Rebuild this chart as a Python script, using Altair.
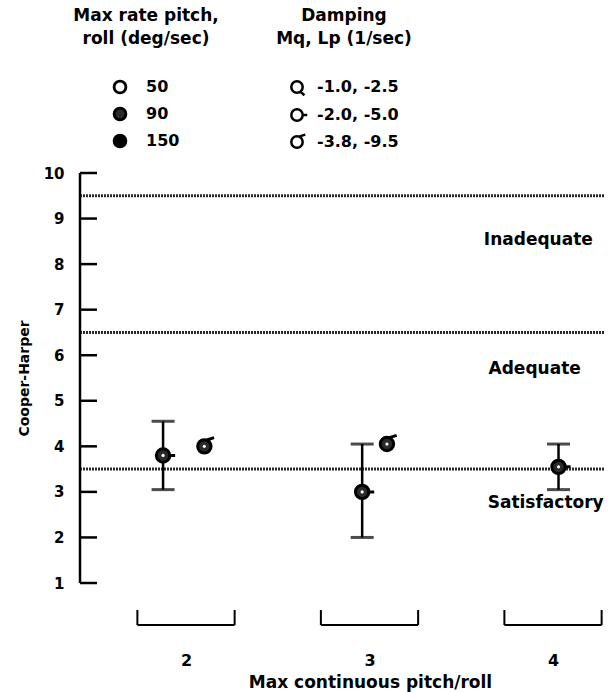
import altair as alt
import pandas as pd

# ---------------- data ----------------
groups = [2, 3, 4]                               # max continuous pitch/roll
pt_x = [1.875, 2.10, 2.96, 3.095, 4.03]          # plotted position (offset around group)
pt_rating = [3.8, 4.0, 3.0, 4.05, 3.55]          # Cooper-Harper rating
pt_rate = ["90", "90", "90", "90", "90"]         # max rate pitch, roll (deg/sec)
pt_damping = ["-2.0, -5.0", "-3.8, -9.5", "-2.0, -5.0", "-3.8, -9.5", "-2.0, -5.0"]
err_x = [1.875, 2.96, 4.03]
err_lo = [3.05, 2.0, 3.05]
err_hi = [4.55, 4.05, 4.05]
rate_levels = ["50", "90", "150"]
damping_levels = ["-1.0, -2.5", "-2.0, -5.0", "-3.8, -9.5"]
thresholds = [3.5, 6.5, 9.5]
zone_labels = ["Inadequate", "Adequate", "Satisfactory"]
zone_x = [3.92, 3.90, 3.96]
zone_y = [8.53, 5.70, 2.76]
y_ticks = list(range(1, 11))
bracket_half = 0.265

# ---------------- layout / style ----------------
W, H = 524, 410
FONT = "DejaVu Sans"
xs = alt.Scale(domain=[1.4223, 4.2779], nice=False, zero=False)
ys = alt.Scale(domain=[1, 10], nice=False, zero=False)

xaxis = alt.Axis(values=groups, format="d", ticks=False, domain=False, grid=False,
                 labelFont=FONT, labelFontSize=16, labelFontWeight="bold", labelColor="black",
                 labelPadding=69, title="Max continuous pitch/roll", titleFont=FONT,
                 titleFontSize=17, titleFontWeight="bold", titleColor="black",
                 titlePadding=6, titleX=290)
yaxis = alt.Axis(values=y_ticks, format="d", ticks=False, domain=False, grid=False,
                 labelFont=FONT, labelFontSize=15, labelFontWeight="bold", labelColor="black",
                 labelPadding=16, title="Cooper-Harper", titleFont=FONT, titleFontSize=14,
                 titleFontWeight="bold", titleColor="black", titlePadding=12)

X = lambda f: alt.X(f, type="quantitative", scale=xs, axis=xaxis)
Y = lambda f: alt.Y(f, type="quantitative", scale=ys, axis=yaxis)

CIRCLE = "M-1,0A1,1 0 1,1 1,0A1,1 0 1,1 -1,0Z"
shape_paths = [
    CIRCLE + "M0.6,0.8L1.3,1.45",     # Q  : -1.0, -2.5
    CIRCLE + "M1,0L1.8,0",            # O- : -2.0, -5.0
    CIRCLE + "M0.35,-0.95L1.45,-1.3", # σ  : -3.8, -9.5
]

pts = pd.DataFrame({"x": pt_x, "rating": pt_rating, "rate": pt_rate, "damping": pt_damping})
err = pd.DataFrame({"x": err_x, "lo": err_lo, "hi": err_hi})
caps = pd.DataFrame({"x": err_x + err_x, "y": err_lo + err_hi})
thr = pd.DataFrame({"y": thresholds})
ticks = pd.DataFrame({"y": y_ticks})
axis_span = pd.DataFrame({"y": [min(y_ticks)], "y2": [max(y_ticks)]})
zones = pd.DataFrame({"label": zone_labels, "x": zone_x, "y": zone_y})
brk = pd.DataFrame({"g": groups,
                    "lo": [g - bracket_half for g in groups],
                    "hi": [g + bracket_half for g in groups]})
legs = pd.DataFrame({"x": list(brk["lo"]) + list(brk["hi"])})

thr_layer = alt.Chart(thr).mark_rule(color="#2a2a2a", strokeWidth=3, strokeDash=[2, 1]).encode(
    y=Y("y"), x=alt.value(0), x2=alt.value(W))

axis_line = alt.Chart(axis_span).mark_rule(color="black", strokeWidth=2.5).encode(
    y=Y("y"), y2="y2", x=alt.value(0))

tick_layer = alt.Chart(ticks).mark_rule(color="black", strokeWidth=2.5).encode(
    y=Y("y"), x=alt.value(0), x2=alt.value(17))

brk_h = alt.Chart(brk).mark_rule(color="black", strokeWidth=2).encode(
    x=X("lo"), x2="hi", y=alt.value(H + 42))
brk_v = alt.Chart(legs).mark_rule(color="black", strokeWidth=2).encode(
    x=X("x"), y=alt.value(H + 27), y2=alt.value(H + 42))

err_rule = alt.Chart(err).mark_rule(color="black", strokeWidth=2.5).encode(
    x=X("x"), y=Y("lo"), y2="hi")
cap_layer = alt.Chart(caps).mark_tick(orient="horizontal", size=23, thickness=3, color="black").encode(
    x=X("x"), y=Y("y"))

leg_common = dict(
    orient="none", legendY=-165, padding=0, titleAnchor="middle", titleAlign="center",
    titleFont=FONT, titleFontSize=17, titleFontWeight="bold", titleColor="black",
    titleLineHeight=23, titlePadding=31, labelFont=FONT, labelFontSize=16,
    labelFontWeight="bold", labelColor="black", rowPadding=3, direction="vertical")
fill_legend = alt.Legend(
    title=["Max rate pitch,", "roll (deg/sec)"], legendX=-7, labelOffset=18,
    symbolType="circle", symbolSize=140, symbolStrokeColor="black", symbolStrokeWidth=2.8,
    **leg_common)
shape_legend = alt.Legend(
    title=["Damping", "Mq, Lp (1/sec)"], legendX=196, labelOffset=12, symbolSize=130,
    symbolFillColor="white", symbolStrokeColor="black", symbolStrokeWidth=2.5,
    **leg_common)

pt_layer = alt.Chart(pts).mark_point(filled=True, size=180, stroke="black", strokeWidth=3,
                                     opacity=1).encode(
    x=X("x"), y=Y("rating"),
    fill=alt.Fill("rate:N", scale=alt.Scale(domain=rate_levels, range=["white", "#2b2b2b", "black"]),
                  legend=fill_legend),
    shape=alt.Shape("damping:N", scale=alt.Scale(domain=damping_levels, range=shape_paths),
                    legend=shape_legend))

dot_layer = alt.Chart(pts).transform_filter(alt.datum.rate == "90").mark_circle(
    size=10, color="white", opacity=1).encode(x=X("x"), y=Y("rating"))

zone_layer = alt.Chart(zones).mark_text(font=FONT, fontSize=17, fontWeight="bold", color="black",
                                         align="center", baseline="middle").encode(
    x=X("x"), y=Y("y"), text="label:N")

chart = alt.layer(
    thr_layer, axis_line, tick_layer, brk_h, brk_v, err_rule, cap_layer, pt_layer, dot_layer,
    zone_layer
).properties(
    width=W, height=H,
    autosize=alt.AutoSizeParams(type="none"),
    padding={"left": 80, "top": 173, "right": 4, "bottom": 109},
    background="white",
).configure_view(stroke=None)

chart.save("out.html", embed_options={"renderer": "svg", "actions": False})
